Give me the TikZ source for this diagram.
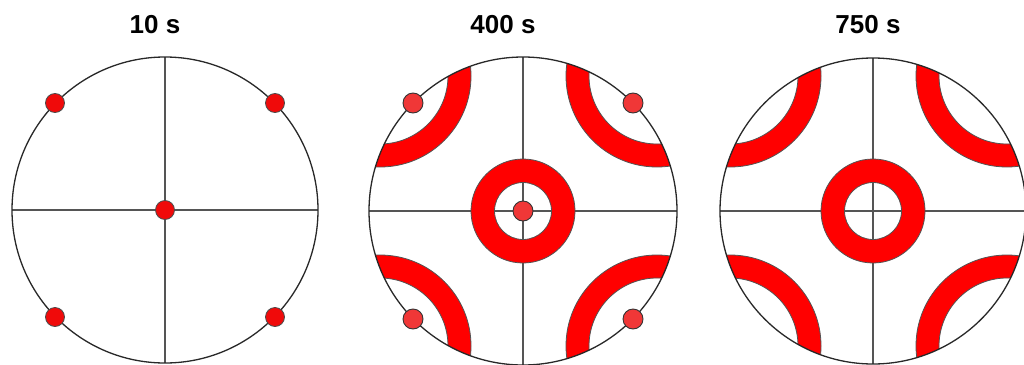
\documentclass[tikz,border=0pt]{standalone}
\usepackage{fontspec}
\setmainfont{Liberation Sans}
\definecolor{band}{RGB}{255,0,0}
\definecolor{dotred}{RGB}{240,10,10}
\definecolor{dotlight}{RGB}{240,55,55}
\definecolor{rimc}{RGB}{40,40,40}
\definecolor{axisc}{RGB}{85,85,85}
\tikzset{
  rim/.style={draw=rimc, line width=1.3pt},
  axisline/.style={draw=axisc, line width=1.7pt},
  bandedge/.style={draw=rimc!80, line width=0.8pt},
  wellA/.style={fill=dotred, draw=black!70, line width=0.8pt},
  wellB/.style={fill=dotlight, draw=black!80, line width=0.9pt},
  title/.style={font=\bfseries\fontsize{26}{30}\selectfont, anchor=base, inner sep=0pt}
}
\begin{document}
\begin{tikzpicture}[x=1pt, y=-1pt]
\useasboundingbox (0,0) rectangle (1024,364);
\fill[white] (0,0) rectangle (1024,364);

% ---------- panel 1 : 10 s ----------
\node[title] (t1) at (155,33) {10 s};
\begin{scope}[shift={(165,210)}]
  \draw[axisline] (-153,0) -- (153,0);
  \draw[axisline] (0,-153) -- (0,153);
  \draw[rim] (0,0) circle (153);
  \foreach \sx/\sy in {1/1,1/-1,-1/1,-1/-1}
    \draw[wellA] (\sx*110,\sy*107) circle (9.5);
  \draw[wellA] (0,0) circle (9.5);
\end{scope}

% ---------- panels 2 and 3 ----------
\foreach \cx/\cy/\R/\wells in {523/211/154/1, 873/211/153/0} {
\begin{scope}[shift={(\cx,\cy)}]
  \begin{scope}
    \clip (0,0) circle (\R);
    \foreach \bx/\by in {134/135,134/-135,-143/135,-143/-135} {
      \fill[band, even odd rule] (\bx,\by) circle (91) (\bx,\by) circle (68);
      \draw[bandedge] (\bx,\by) circle (91);
      \draw[bandedge] (\bx,\by) circle (68);
    }
  \end{scope}
  \draw[axisline] (-\R,0) -- (\R,0);
  \draw[axisline] (0,-\R) -- (0,\R);
  \fill[band, even odd rule] (0,0) circle (52) (0,0) circle (28.5);
  \draw[bandedge] (0,0) circle (52);
  \draw[bandedge] (0,0) circle (28.5);
  \draw[rim] (0,0) circle (\R);
  \ifnum\wells=1
    \foreach \sx/\sy in {1/1,1/-1,-1/1,-1/-1}
      \draw[wellB] (\sx*110,\sy*108) circle (10);
    \draw[wellB] (0,0) circle (10);
  \fi
\end{scope}
}
\node[title] (t2) at (503,33) {400 s};
\node[title] (t3) at (868,33) {750 s};
\end{tikzpicture}
\end{document}
